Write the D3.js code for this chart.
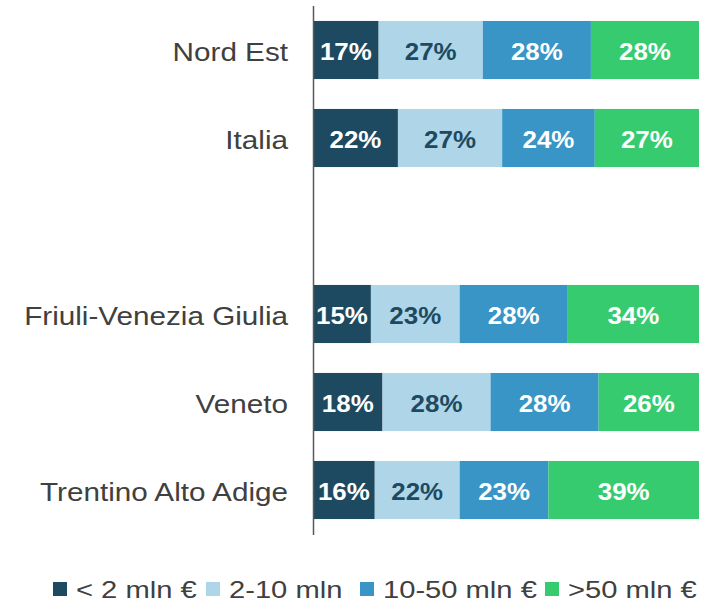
<!DOCTYPE html>
<html>
<head>
<meta charset="utf-8">
<script src="https://cdn.jsdelivr.net/npm/d3@7"></script>
<style>
  body { margin: 0; background: #fff; }
  text { font-family: "Liberation Sans", Arial, sans-serif; }
</style>
</head>
<body>
<div id="chart"></div>
<script>
// categories top to bottom, "" is the empty gap row
var regions = ["Nord Est", "Italia", "", "Friuli-Venezia Giulia", "Veneto", "Trentino Alto Adige"];
var seriesNames = ["< 2 mln €", "2-10 mln", "10-50 mln €", ">50 mln €"];
var under2 = [17, 22, null, 15, 18, 16];
var from2to10 = [27, 27, null, 23, 28, 22];
var from10to50 = [28, 24, null, 28, 28, 23];
var over50 = [28, 27, null, 34, 26, 39];

var colors = ["#1d4a60", "#afd5e8", "#3895c5", "#37cb6f"];
var labelColors = ["#ffffff", "#1d4a60", "#ffffff", "#ffffff"];

var svgWidth = 720;
var svgHeight = 603;

var svg = d3.select("#chart")
  .append("svg")
  .attr("width", svgWidth)
  .attr("height", svgHeight);

var keys = regions.map((d, i) => "r" + i);

var yScale = d3.scaleBand()
  .domain(keys)
  .range([6, 534])
  .paddingInner(0.34)
  .paddingOuter(0.17);

var xScale = d3.scaleLinear()
  .domain([0, 100])
  .range([313, 699]);

var rows = regions.map(function(name, i) {
  return {key: keys[i], name: name, values: [under2[i], from2to10[i], from10to50[i], over50[i]]};
});

var stacked = d3.stack()
  .keys([0, 1, 2, 3])
  .value((d, k) => d.values[k] || 0)(rows);

var layers = svg.selectAll("g.layer")
  .data(stacked)
  .enter()
  .append("g")
  .attr("class", "layer");

layers.selectAll("rect")
  .data(d => d.filter(s => s.data.values[0] !== null))
  .enter()
  .append("rect")
  .attr("x", d => xScale(d[0]))
  .attr("y", d => yScale(d.data.key))
  .attr("width", d => xScale(d[1]) - xScale(d[0]))
  .attr("height", yScale.bandwidth())
  .attr("fill", function() { return colors[d3.select(this.parentNode).datum().key]; });

layers.each(function(layer) {
  d3.select(this).selectAll("text")
    .data(layer.filter(s => s.data.values[0] !== null))
    .enter()
    .append("text")
    .attr("transform", d => `translate(${(xScale(d[0]) + xScale(d[1])) / 2}, ${yScale(d.data.key) + yScale.bandwidth() / 2 + 9.5}) scale(1.08,1)`)
    .attr("text-anchor", "middle")
    .attr("font-size", "24px")
    .attr("font-weight", "bold")
    .attr("fill", labelColors[layer.key])
    .text(d => (d[1] - d[0]) + "%");
});

// category labels
svg.append("g")
  .selectAll("text")
  .data(rows.filter(r => r.name !== ""))
  .enter()
  .append("text")
  .attr("transform", d => `translate(288, ${yScale(d.key) + yScale.bandwidth() / 2 + 10.5}) scale(1.12,1)`)
  .attr("text-anchor", "end")
  .attr("font-size", "26.5px")
  .attr("fill", "#404040")
  .text(d => d.name);

// vertical axis line
svg.append("line")
  .attr("x1", 313.5).attr("x2", 313.5)
  .attr("y1", 6).attr("y2", 535)
  .attr("stroke", "#595959")
  .attr("stroke-width", 1.5);

// legend
var legend = svg.append("g").attr("class", "legend");
var legendX = [53, 206, 360, 545];
seriesNames.forEach(function(name, i) {
  var g = legend.append("g").attr("transform", `translate(${legendX[i]}, 582)`);
  g.append("rect")
    .attr("width", 14).attr("height", 14)
    .attr("fill", colors[i]);
  g.append("text")
    .attr("transform", `translate(23, 15.5) scale(1.19,1)`)
    .attr("font-size", "24.5px")
    .attr("fill", "#404040")
    .text(name);
});
</script>
</body>
</html>
